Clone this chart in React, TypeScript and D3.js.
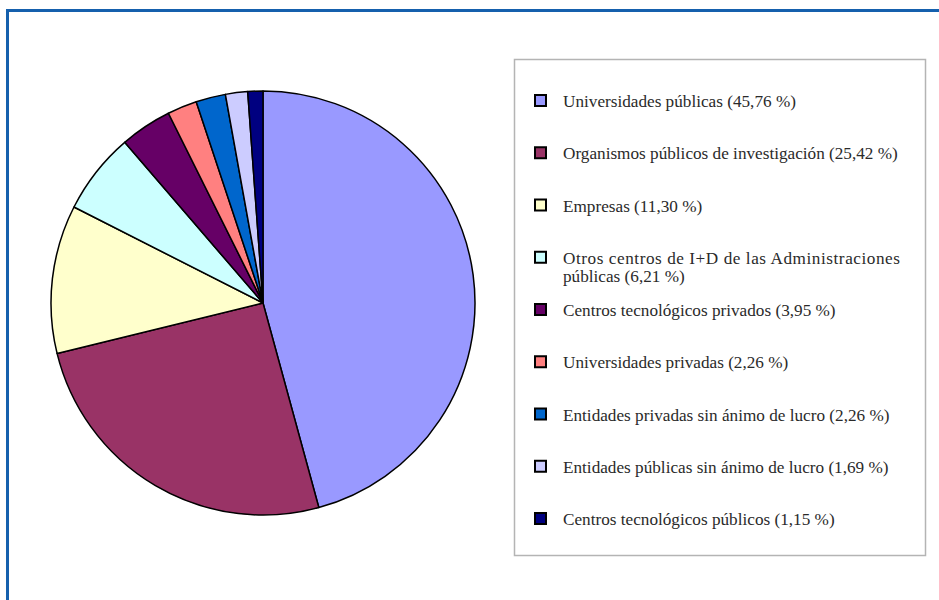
import React from "react";
import * as d3 from "d3";

const categories = [
  "Universidades públicas",
  "Organismos públicos de investigación",
  "Empresas",
  "Otros centros de I+D de las Administraciones públicas",
  "Centros tecnológicos privados",
  "Universidades privadas",
  "Entidades privadas sin ánimo de lucro",
  "Entidades públicas sin ánimo de lucro",
  "Centros tecnológicos públicos",
];
const values = [45.76, 25.42, 11.3, 6.21, 3.95, 2.26, 2.26, 1.69, 1.15];
const colors = ["#9999FF", "#993366", "#FFFFCC", "#CCFFFF", "#660066", "#FF8080", "#0066CC", "#CCCCFF", "#000080"];
const legendLines: string[][] = [
  ["Universidades públicas (45,76 %)"],
  ["Organismos públicos de investigación (25,42 %)"],
  ["Empresas (11,30 %)"],
  ["Otros centros de I+D de las Administraciones", "públicas (6,21 %)"],
  ["Centros tecnológicos privados (3,95 %)"],
  ["Universidades privadas (2,26 %)"],
  ["Entidades privadas sin ánimo de lucro (2,26 %)"],
  ["Entidades públicas sin ánimo de lucro (1,69 %)"],
  ["Centros tecnológicos públicos (1,15 %)"],
];

export default function App() {
  const W = 939, H = 600;
  const cx = 263, cy = 303, r = 212;
  const pie = d3.pie<number>().sort(null).value((d) => d)(values);
  const arc = d3.arc<d3.PieArcDatum<number>>().innerRadius(0).outerRadius(r);
  const rowY = d3.scalePoint<number>().domain(d3.range(categories.length)).range([101, 519]);
  return (
    <svg width={W} height={H} style={{ position: "absolute", left: 0, top: 0 }}>
      <rect x={0} y={0} width={W} height={H} fill="#fff" />
      <path d={`M7.5,${H} L7.5,10.5 L${W},10.5`} fill="none" stroke="#1560AD" strokeWidth={3} />
      <g transform={`translate(${cx},${cy})`}>
        {pie.map((p, i) => (
          <path key={i} d={arc(p) || ""} fill={colors[i]} stroke="#000" strokeWidth={1.5} strokeLinejoin="round" />
        ))}
      </g>
      <rect x={514.5} y={59.5} width={411} height={496} fill="#fff" stroke="#b4b4b4" strokeWidth={1.5} />
      {categories.map((c, i) => {
        const y = rowY(i)!;
        const multi = legendLines[i].length > 1;
        return (
          <g key={c}>
            <rect x={535} y={y - 6} width={11} height={11} fill={colors[i]} stroke="#000" strokeWidth={2} />
            <text x={563} y={y + 6} fontFamily="'Liberation Serif', 'DejaVu Serif', serif" fontSize={17.2} fill="#2a2a2a">
              {legendLines[i].map((ln, k) => (
                <tspan
                  key={k}
                  x={563}
                  dy={k === 0 ? 0 : 18}
                  {...(multi && k === 0 ? { textLength: 337, lengthAdjust: "spacing" } : {})}
                >
                  {ln}
                </tspan>
              ))}
            </text>
          </g>
        );
      })}
    </svg>
  );
}
